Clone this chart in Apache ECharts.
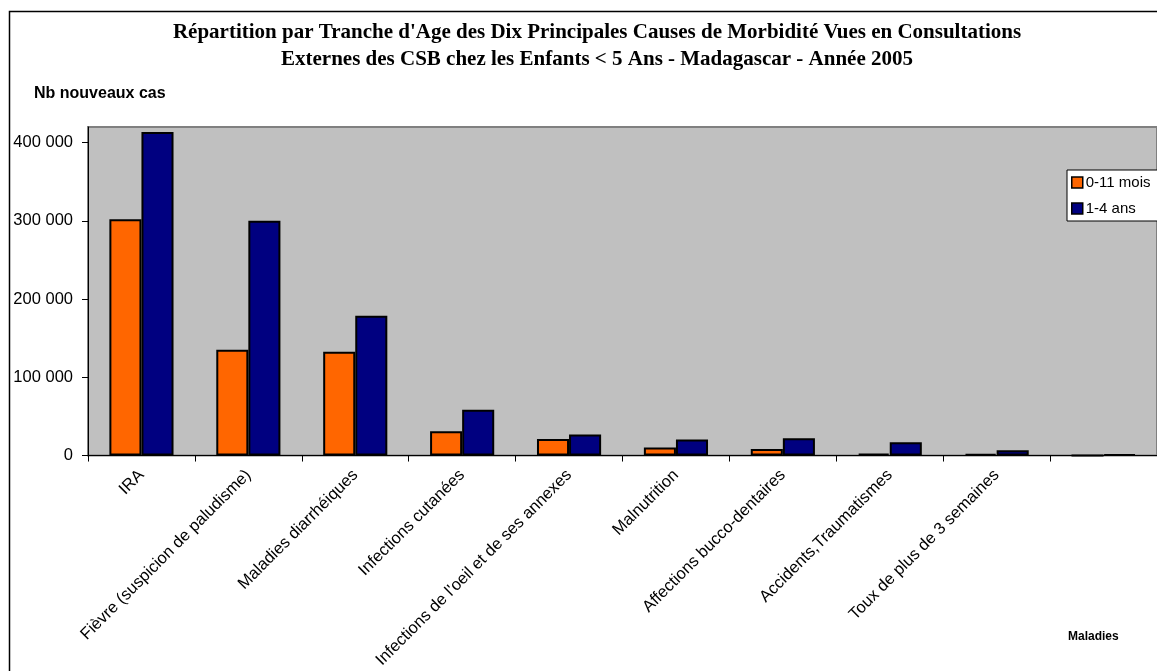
<!DOCTYPE html>
<html>
<head>
<meta charset="utf-8">
<script src="https://cdn.jsdelivr.net/npm/echarts@6/dist/echarts.min.js"></script>
<style>html,body{margin:0;padding:0;background:#fff;}#c{width:1157px;height:671px;}</style>
</head>
<body>
<div id="c"></div>
<script>
const categories = ["IRA", "Fièvre (suspicion de paludisme)", "Maladies diarrhéiques", "Infections cutanées", "Infections de l'oeil et de ses annexes", "Malnutrition", "Affections bucco-dentaires", "Accidents,Traumatismes", "Toux de plus de 3 semaines", ""];
const seriesNames = ["0-11 mois", "1-4 ans"];
const values0to11 = [302000, 135300, 132800, 31000, 21300, 10200, 8500, 2500, 2300, 0];
const values1to4 = [413600, 300000, 178700, 58700, 26800, 20400, 22100, 17000, 6800, 1500];
const yTicks = [0, 100000, 200000, 300000, 400000];
const colors = ["#FF6600", "#000080"];

const fmt = v => String(v).replace(/\B(?=(\d{3})+(?!\d))/g, ' ');
const chart = echarts.init(document.getElementById('c'), null, {renderer: 'canvas'});
chart.setOption({
  animation: false,
  backgroundColor: '#ffffff',
  title: {
    text: "Répartition par Tranche d'Age des Dix Principales Causes de Morbidité Vues en Consultations\nExternes des CSB chez les Enfants < 5 Ans - Madagascar - Année 2005",
    left: 592, top: 14, textAlign: 'center',
    textStyle: {fontFamily: 'Liberation Serif', fontWeight: 'bold', fontSize: 21, lineHeight: 27, color: '#000'}
  },
  graphic: [
    {type: 'rect', left: 7, top: 9, shape: {width: 1300, height: 800}, style: {fill: 'none', stroke: '#000', lineWidth: 1.5}, silent: true, z: -1},
    {type: 'text', left: 34, top: 86, style: {text: 'Nb nouveaux cas', font: 'bold 16px "Liberation Sans", Arial', fill: '#000'}},
    {type: 'text', left: 1068, top: 631, style: {text: 'Maladies', font: 'bold 12px "Liberation Sans", Arial', fill: '#000'}}
  ],
  legend: {
    data: seriesNames,
    orient: 'vertical',
    left: 1067, top: 170,
    backgroundColor: '#fff', borderColor: '#000', borderWidth: 1,
    padding: [5, 30, 5, 4], itemGap: 11, itemWidth: 11, itemHeight: 11,
    icon: 'rect',
    itemStyle: {borderColor: '#000', borderWidth: 1.5},
    textStyle: {fontFamily: 'Liberation Sans', fontSize: 15, color: '#000', padding: [0,0,0,-2]}
  },
  grid: {left: 88, top: 127, right: -14, bottom: 215, show: true, backgroundColor: '#C0C0C0', borderColor: '#808080', borderWidth: 2},
  xAxis: {
    type: 'category', data: categories,
    axisLine: {lineStyle: {color: '#000', width: 1}},
    axisTick: {show: true, alignWithLabel: false, length: 6, lineStyle: {color: '#000'}},
    axisLabel: {rotate: 45, interval: 0, fontFamily: 'Liberation Sans', fontSize: 16.5, color: '#000', margin: 17}
  },
  yAxis: {
    type: 'value', min: 0, max: 420000, interval: 100000,
    axisLine: {show: true, lineStyle: {color: '#000', width: 1}},
    axisTick: {show: true, length: 6, inside: false, lineStyle: {color: '#000'}, customValues: yTicks},
    splitLine: {show: false},
    axisLabel: {customValues: yTicks, formatter: fmt, fontFamily: 'Liberation Sans', fontSize: 16.5, color: '#000', margin: 15}
  },
  series: [
    {name: seriesNames[0], type: 'bar', data: values0to11, barGap: '0%', barCategoryGap: '40%', itemStyle: {color: colors[0], borderColor: '#000', borderWidth: 2}},
    {name: seriesNames[1], type: 'bar', data: values1to4, barGap: '0%', barCategoryGap: '40%', itemStyle: {color: colors[1], borderColor: '#000', borderWidth: 2}}
  ]
});
</script>
</body>
</html>
